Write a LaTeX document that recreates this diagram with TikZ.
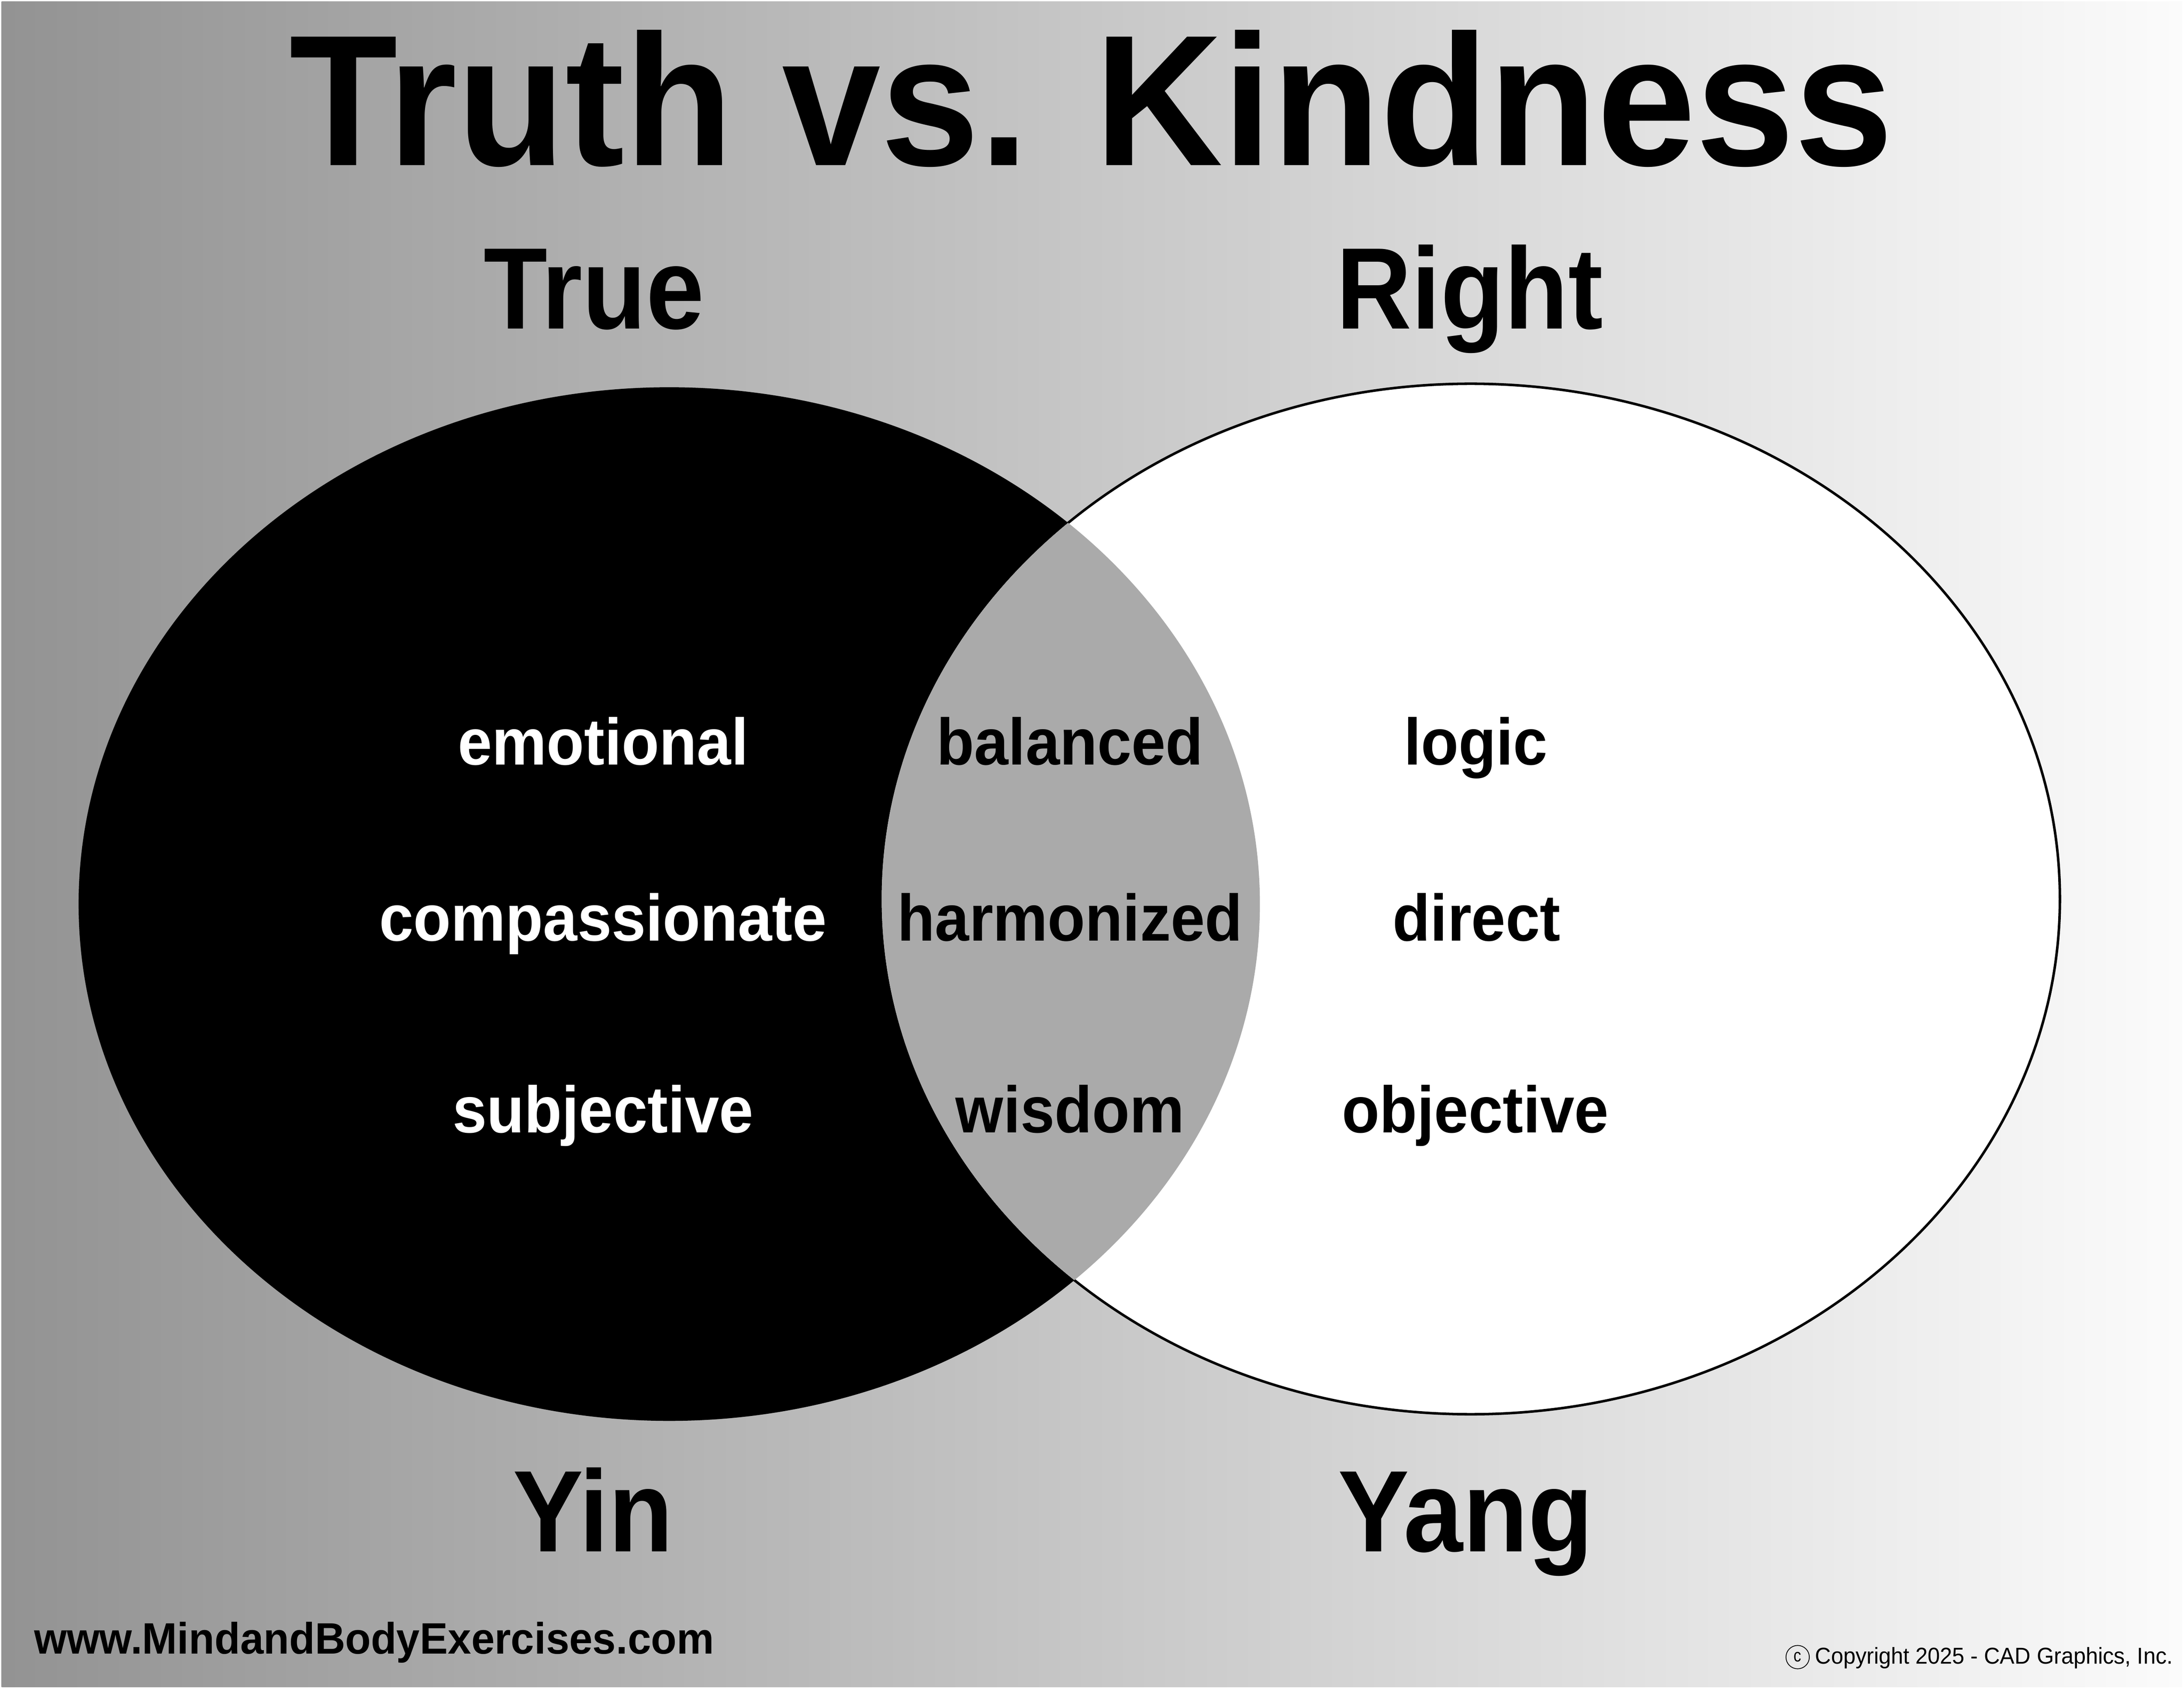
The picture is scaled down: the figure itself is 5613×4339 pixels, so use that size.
\documentclass[tikz,border=0pt]{standalone}
\usepackage{fontspec}
\setmainfont{Liberation Sans}
\definecolor{bgl}{gray}{0.576}
\definecolor{bgr}{gray}{0.985}
\definecolor{lensgray}{gray}{0.667}
\begin{document}
\begin{tikzpicture}[x=1pt,y=-1pt,
  every node/.style={inner sep=0pt, outer sep=0pt},
  titletext/.style={anchor=base, font=\bfseries\fontsize{480}{480}\selectfont},
  bigtext/.style={anchor=base, font=\bfseries\fontsize{298}{298}\selectfont},
  wordtext/.style={anchor=base, font=\bfseries\fontsize{169}{169}\selectfont},
  lightword/.style={wordtext, text=white},
  darkword/.style={wordtext, text=black},
  ellstroke/.style={draw=black, line width=6.5pt}
]
\useasboundingbox (0,0) rectangle (5613,4339);
\fill[white] (0,0) rectangle (5613,4339);
\shade[left color=bgl, right color=bgr] (4,4) rectangle (5608,4335);

% ellipses
\coordinate (yinc) at (1720,2323);
\coordinate (yangc) at (3780,2310);
\fill[black] (yinc) ellipse [x radius=1518, y radius=1328];
\fill[white] (yangc) ellipse [x radius=1514, y radius=1324];
\begin{scope}
  \clip (yinc) ellipse [x radius=1518, y radius=1328];
  \fill[lensgray] (yangc) ellipse [x radius=1514, y radius=1324];
\end{scope}
\begin{scope}
  \clip (yinc) ellipse [x radius=1518, y radius=1328] (0,0) rectangle (5613,4339);
  \draw[ellstroke] (yangc) ellipse [x radius=1514, y radius=1324];
\end{scope}

% titles
\node[titletext] (title) at (2805,425) {\scalebox{0.95}[1]{Truth vs. Kindness}};
\node[bigtext] (true) at (1527,845) {\scalebox{0.9}[1]{True}};
\node[bigtext] (right) at (3777,845) {\scalebox{0.9}[1]{Right}};
\node[bigtext] (yin) at (1524,3987) {\scalebox{0.91}[1]{Yin}};
\node[bigtext] (yang) at (3767,3987) {\scalebox{0.92}[1]{Yang}};

% words
\node[lightword] (emotional) at (1550,1965) {\scalebox{0.935}[1]{emotional}};
\node[lightword] (compassionate) at (1550,2418) {\scalebox{0.935}[1]{compassionate}};
\node[lightword] (subjective) at (1550,2910) {\scalebox{0.935}[1]{subjective}};
\node[darkword] (balanced) at (2750,1965) {\scalebox{0.935}[1]{balanced}};
\node[darkword] (harmonized) at (2750,2418) {\scalebox{0.935}[1]{harmonized}};
\node[darkword] (wisdom) at (2750,2910) {\scalebox{0.935}[1]{wisdom}};
\node[darkword] (logic) at (3793,1965) {\scalebox{0.935}[1]{logic}};
\node[darkword] (direct) at (3795,2418) {\scalebox{0.935}[1]{direct}};
\node[darkword] (objective) at (3792,2910) {\scalebox{0.935}[1]{objective}};

% footer
\node[anchor=base west, font=\bfseries\fontsize{113}{113}\selectfont] (url) at (88,4249) {\scalebox{0.955}[1]{www.MindandBodyExercises.com}};
\node[circle, draw=black, line width=2pt, minimum size=60pt, font=\fontsize{46}{46}\selectfont] (cc) at (4620,4258) {\scalebox{0.85}[1]{c}};
\node[anchor=base west, font=\fontsize{59}{59}\selectfont] (copy) at (4665,4275) {\scalebox{0.96}[1]{Copyright 2025 - CAD Graphics, Inc.}};
\end{tikzpicture}
\end{document}
